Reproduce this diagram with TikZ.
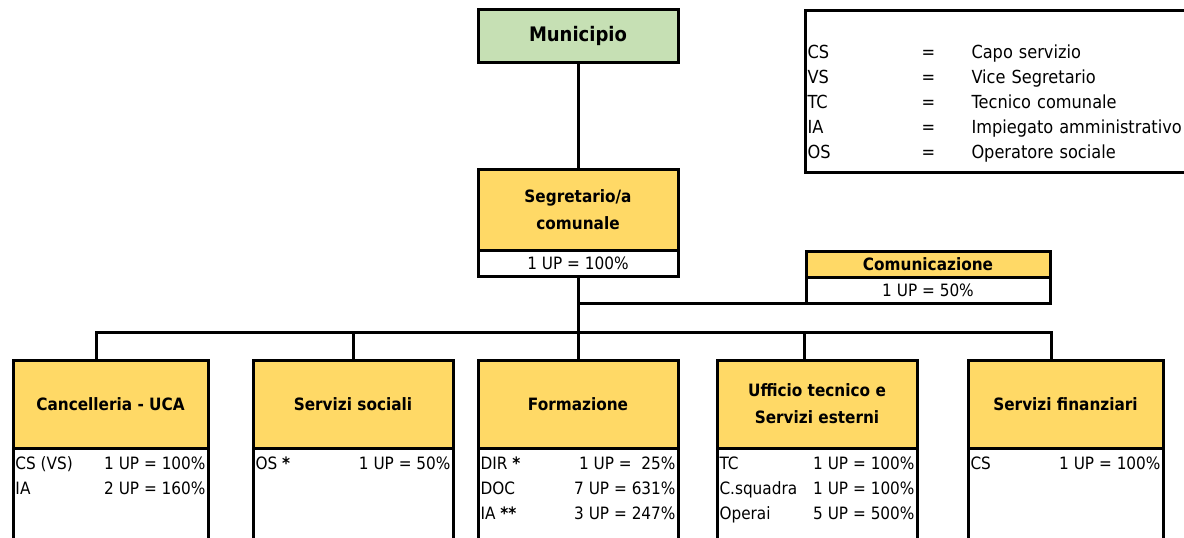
\documentclass[tikz,border=0pt]{standalone}
\usepackage{fontspec}
\setmainfont{DejaVu Sans}[FakeStretch=0.9]
\usetikzlibrary{positioning}
\definecolor{munigreen}{HTML}{C6E0B4}
\definecolor{unityellow}{HTML}{FFD966}
\newcommand{\uprows}[2]{\parbox[t][112pt][t]{#1}{\begin{tabular*}{#1}{@{}l@{\extracolsep{\fill}}r@{}}#2\end{tabular*}}}

\begin{document}
\begin{tikzpicture}[x=1pt, y=-1pt,
    every node/.style={font=\fontsize{17}{25}\selectfont, outer sep=0pt, inner sep=0pt},
    box/.style={draw, line width=3pt, align=center, font=\fontsize{17}{27}\selectfont\bfseries},
    head/.style={box, fill=unityellow, minimum width=#1, minimum height=88pt},
    staff/.style={draw, line width=3pt, fill=white, inner xsep=2.5pt, inner ysep=3.5pt, anchor=north},
    share/.style={draw, line width=3pt, fill=white, minimum width=#1, minimum height=26pt},
    conn/.style={line width=3pt}]
    \useasboundingbox (0,0) rectangle (1184,538);

    \node[box, fill=munigreen, minimum width=200pt, minimum height=53pt, font=\fontsize{20}{24}\selectfont\bfseries] (muni) at (578,35.5) {Municipio};

    \node[draw, line width=3pt, anchor=north west, text width=600pt, inner xsep=2.5pt, inner ysep=6pt, align=left, font=\fontsize{18}{25}\selectfont] (legend) at (805,10) {%
      \begin{tabular}{@{}p{114pt}@{}p{50pt}@{}l@{}}
        & & \\
        CS & = & Capo servizio\\
        VS & = & Vice Segretario\\
        TC & = & Tecnico comunale\\
        IA & = & Impiegato amministrativo\\
        OS & = & Operatore sociale
      \end{tabular}};

    \node[box, fill=unityellow, minimum width=200pt, minimum height=81pt] (segr) at (578,209.5) {Segretario/a\\comunale};
    \node[share=200pt, below=0pt of segr] (segrup) {1 UP = 100\%};

    \node[box, fill=unityellow, minimum width=244pt, minimum height=26pt] (comm) at (928,264) {Comunicazione};
    \node[share=244pt, below=0pt of comm] (commup) {1 UP = 50\%};

    \node[head=195pt] (canc) at (110.5,404) {Cancelleria - UCA};
    \node[staff, below=0pt of canc] (cancup) {\uprows{190pt}{CS (VS) & 1 UP = 100\%\\ IA & 2 UP = 160\%}};

    \node[head=200pt] (soc) at (353,404) {Servizi sociali};
    \node[staff, below=0pt of soc] (socup) {\uprows{195pt}{OS \textbf{*} & 1 UP = 50\%}};

    \node[head=200pt] (form) at (578,404) {Formazione};
    \node[staff, below=0pt of form] (formup) {\uprows{195pt}{DIR \textbf{*} & 1 UP =\ \ 25\%\\ DOC & 7 UP = 631\%\\ IA \textbf{**} & 3 UP = 247\%}};

    \node[head=200pt] (uff) at (817,404) {Ufficio tecnico e\\Servizi esterni};
    \node[staff, below=0pt of uff] (uffup) {\uprows{195pt}{TC & 1 UP = 100\%\\ C.squadra & 1 UP = 100\%\\ Operai & 5 UP = 500\%}};

    \node[head=195pt] (finz) at (1065.5,404) {Servizi finanziari};
    \node[staff, below=0pt of finz] (finzup) {\uprows{190pt}{CS & 1 UP = 100\%}};

    \coordinate (bus) at (578,332);
    \draw[conn] (muni) -- (segr);
    \draw[conn] (segrup) -- (form);
    \draw[conn] (segrup.south |- commup.south) -- (commup.south west);
    \draw[conn] ([xshift=-14.5pt]canc.north) |- (bus) -| ([xshift=-14.5pt]finz.north);
    \draw[conn] (soc.north) -- (soc.north |- bus);
    \draw[conn] ([xshift=-13pt]uff.north) -- ([xshift=-13pt]uff.north |- bus);
\end{tikzpicture}
\end{document}
